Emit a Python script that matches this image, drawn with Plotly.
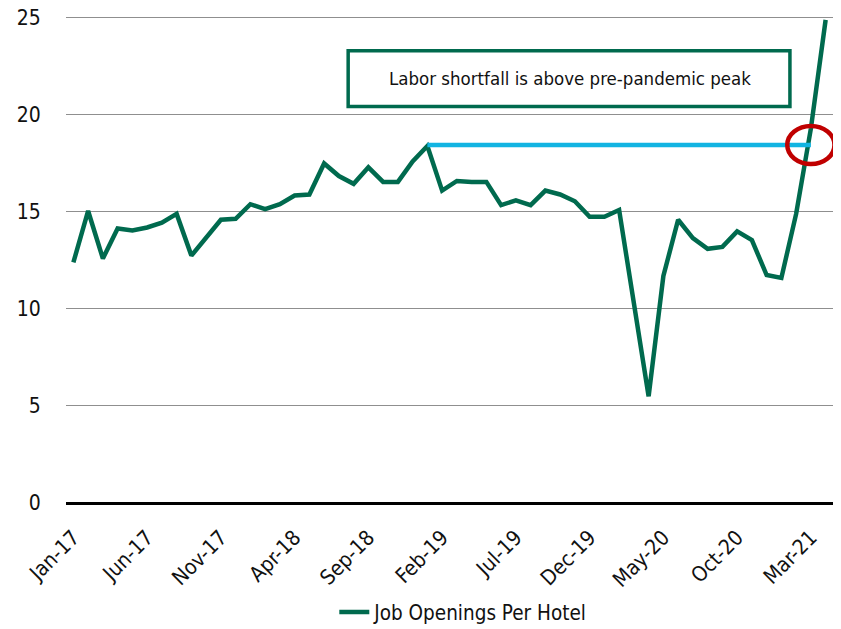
import plotly.graph_objects as go

# ---- data ----
months = [
    "Jan-17", "Feb-17", "Mar-17", "Apr-17", "May-17", "Jun-17", "Jul-17", "Aug-17", "Sep-17", "Oct-17", "Nov-17", "Dec-17",
    "Jan-18", "Feb-18", "Mar-18", "Apr-18", "May-18", "Jun-18", "Jul-18", "Aug-18", "Sep-18", "Oct-18", "Nov-18", "Dec-18",
    "Jan-19", "Feb-19", "Mar-19", "Apr-19", "May-19", "Jun-19", "Jul-19", "Aug-19", "Sep-19", "Oct-19", "Nov-19", "Dec-19",
    "Jan-20", "Feb-20", "Mar-20", "Apr-20", "May-20", "Jun-20", "Jul-20", "Aug-20", "Sep-20", "Oct-20", "Nov-20", "Dec-20",
    "Jan-21", "Feb-21", "Mar-21", "Apr-21",
]
job_openings_per_hotel = [
    12.4, 15.05, 12.6, 14.15, 14.05, 14.2, 14.45, 14.9, 12.75, 13.65, 14.6, 14.65,
    15.4, 15.15, 15.4, 15.85, 15.9, 17.5, 16.85, 16.45, 17.3, 16.55, 16.55, 17.6,
    18.4, 16.1, 16.6, 16.55, 16.55, 15.35, 15.6, 15.35, 16.1, 15.9, 15.55, 14.75,
    14.75, 15.1, 10.4, 5.5, 11.7, 14.6, 13.65, 13.1, 13.2, 14.0, 13.55, 11.75,
    11.6, 14.9, 19.3, 24.9,
]
tick_labels = ["Jan-17", "Jun-17", "Nov-17", "Apr-18", "Sep-18", "Feb-19",
               "Jul-19", "Dec-19", "May-20", "Oct-20", "Mar-21"]
y_ticks = [0, 5, 10, 15, 20, 25]
peak_start = "Jan-19"
peak_end = "Mar-21"
peak_level = 18.45
annotation_text = "Labor shortfall is above pre-pandemic peak"
series_name = "Job Openings Per Hotel"

GREEN = "#006A4E"
BLUE = "#12B4E2"
RED = "#C00000"
FONT = "DejaVu Sans Condensed, Liberation Sans Narrow, sans-serif"

x_range = [-0.5, len(months) - 0.5]
y_range = [0, 25.1]


def px_(i):
    return (i - x_range[0]) / (x_range[1] - x_range[0])


def py_(v):
    return (v - y_range[0]) / (y_range[1] - y_range[0])


fig = go.Figure()
fig.add_trace(go.Scatter(
    x=months, y=job_openings_per_hotel, mode="lines", name=series_name,
    line=dict(color=GREEN, width=4.5), showlegend=True,
))
fig.add_trace(go.Scatter(
    x=[peak_start, peak_end], y=[peak_level, peak_level], mode="lines",
    line=dict(color=BLUE, width=4.5), showlegend=False, hoverinfo="skip",
))

i_end = months.index(peak_end)
# red ellipse around crossing point
fig.add_shape(type="circle", xref="paper", yref="paper",
              x0=px_(i_end - 1.6), x1=px_(i_end + 1.6),
              y0=py_(peak_level - 0.98), y1=py_(peak_level + 0.98),
              line=dict(color=RED, width=4.5), layer="above")
# annotation box
fig.add_shape(type="rect", xref="paper", yref="paper",
              x0=px_(18.63), x1=px_(48.58), y0=py_(20.43), y1=py_(23.31),
              line=dict(color=GREEN, width=3.5), fillcolor="white", layer="above")
fig.add_annotation(xref="paper", yref="paper", x=px_(33.65), y=py_(21.87),
                   xanchor="center", yanchor="middle",
                   text=annotation_text, showarrow=False,
                   font=dict(family=FONT, size=18.5, color="#111111"))

# the page body has an 8px margin, so the figure is sized/offset to compensate
fig.update_layout(
    width=833, height=621,
    margin=dict(l=58, r=8, t=8, b=126, autoexpand=False),
    paper_bgcolor="white", plot_bgcolor="white",
    font=dict(family=FONT, color="#111111"),
    showlegend=True,
    legend=dict(orientation="h", x=0.518, xanchor="center", y=-0.224, yanchor="middle",
                font=dict(family=FONT, size=20.5, color="#111111"),
                bgcolor="rgba(0,0,0,0)"),
)
fig.update_xaxes(
    type="category", range=x_range, tickmode="array", automargin=False,
    tickvals=tick_labels, ticktext=tick_labels, tickangle=-45,
    showgrid=False, showline=False, zeroline=False,
    ticks="outside", ticklen=13, tickcolor="rgba(0,0,0,0)",
    ticklabeloverflow="allow",
    tickfont=dict(family=FONT, size=21, color="#111111"),
)
fig.update_yaxes(
    range=y_range, tickvals=y_ticks, showgrid=True, gridcolor="#8F8F8F", gridwidth=1,
    automargin=False, ticklabeloverflow="allow",
    zeroline=True, zerolinecolor="#000000", zerolinewidth=2.5,
    showline=False, ticks="outside", ticklen=20, tickcolor="rgba(0,0,0,0)",
    tickfont=dict(family=FONT, size=21, color="#111111"),
)

fig.write_html("out.html")
